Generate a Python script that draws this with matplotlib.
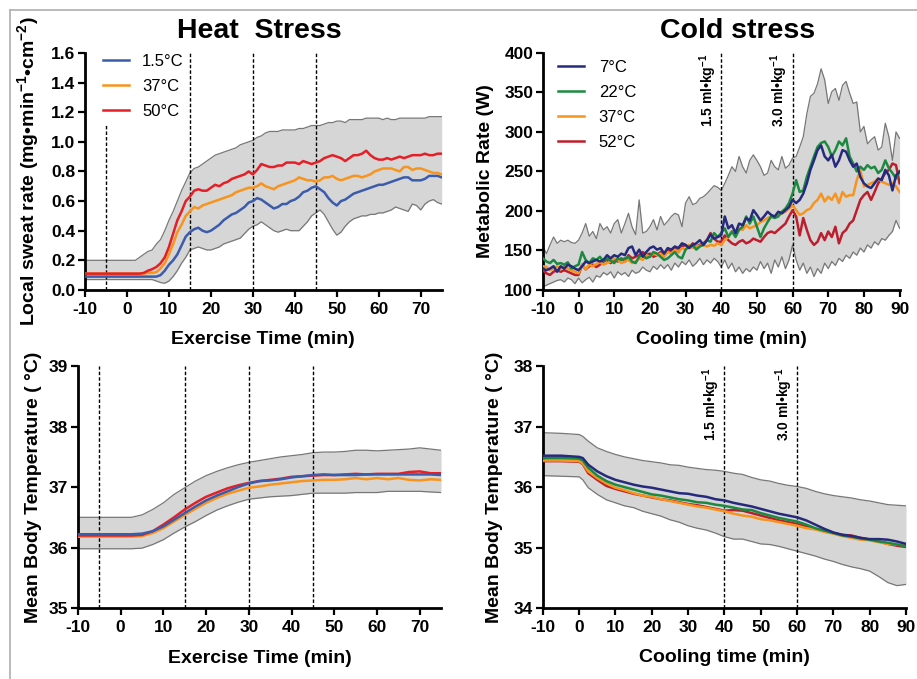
import matplotlib
matplotlib.use("Agg")
import matplotlib.pyplot as plt
from matplotlib.lines import Line2D
import matplotlib.transforms as mtransforms
import numpy as np

plt.rcParams['font.family'] = ['Liberation Sans', 'DejaVu Sans']
plt.rcParams['font.weight'] = 'bold'
plt.rcParams['axes.labelweight'] = 'bold'
plt.rcParams['axes.unicode_minus'] = False
plt.rcParams['mathtext.fontset'] = 'custom'
plt.rcParams['mathtext.rm'] = 'Liberation Sans:bold'
plt.rcParams['mathtext.bf'] = 'Liberation Sans:bold'

# ---------------- heat stress: local sweat rate (1 min samples, -10..75) ----------------
sweat_t = np.arange(-10, 76)
sweat_15 = [0.09, 0.09, 0.09, 0.09, 0.09, 0.09, 0.09, 0.09, 0.09, 0.09, 0.09, 0.09, 0.09, 0.09, 0.09, 0.09, 0.09, 0.09,
            0.10, 0.13, 0.17, 0.20, 0.24, 0.30, 0.36, 0.39, 0.41, 0.42, 0.40, 0.39, 0.40, 0.42, 0.44, 0.47, 0.49, 0.51,
            0.52, 0.54, 0.56, 0.59, 0.60, 0.62, 0.61, 0.59, 0.57, 0.55, 0.56, 0.58, 0.58, 0.60, 0.61, 0.63, 0.66, 0.67,
            0.69, 0.70, 0.68, 0.66, 0.62, 0.59, 0.57, 0.60, 0.61, 0.63, 0.65, 0.66, 0.67, 0.68, 0.69, 0.70, 0.71, 0.71,
            0.72, 0.73, 0.74, 0.75, 0.76, 0.76, 0.74, 0.74, 0.74, 0.75, 0.77, 0.77, 0.77, 0.76]
sweat_37 = [0.11, 0.11, 0.11, 0.11, 0.11, 0.11, 0.11, 0.11, 0.11, 0.11, 0.11, 0.11, 0.11, 0.11, 0.11,
            0.115, 0.115, 0.12, 0.145, 0.18, 0.24, 0.31, 0.39, 0.44, 0.50, 0.53, 0.56, 0.55, 0.57, 0.58, 0.59, 0.60,
            0.61, 0.62, 0.63, 0.64, 0.66, 0.67, 0.68, 0.69, 0.69, 0.70, 0.72, 0.70, 0.69, 0.68, 0.70, 0.71, 0.72, 0.73,
            0.74, 0.76, 0.75, 0.74, 0.74, 0.73, 0.74, 0.76, 0.76, 0.77, 0.75, 0.74, 0.75, 0.76, 0.77, 0.77, 0.76, 0.77,
            0.78, 0.80, 0.81, 0.82, 0.82, 0.82, 0.81, 0.80, 0.83, 0.83, 0.81, 0.82, 0.82, 0.81, 0.80, 0.79, 0.79, 0.78]
sweat_50 = [0.11, 0.11, 0.11, 0.11, 0.11, 0.11, 0.11, 0.11, 0.11, 0.11, 0.11, 0.11, 0.11,
            0.11, 0.115, 0.13, 0.14, 0.155, 0.18, 0.22, 0.29, 0.38, 0.47, 0.53, 0.60, 0.63, 0.67, 0.68, 0.67, 0.67,
            0.69, 0.71, 0.70, 0.72, 0.73, 0.75, 0.76, 0.77, 0.78, 0.80, 0.78, 0.81, 0.85, 0.84, 0.83, 0.83, 0.84, 0.84,
            0.86, 0.86, 0.86, 0.85, 0.87, 0.86, 0.85, 0.86, 0.87, 0.89, 0.90, 0.91, 0.90, 0.89, 0.87, 0.89, 0.91, 0.91,
            0.92, 0.94, 0.91, 0.89, 0.88, 0.88, 0.89, 0.88, 0.89, 0.90, 0.89, 0.90, 0.91, 0.91, 0.91, 0.92, 0.91, 0.91,
            0.92, 0.92]
sweat_hi = [0.20, 0.20, 0.20, 0.20, 0.20, 0.20, 0.20, 0.20, 0.20, 0.20, 0.20, 0.20, 0.20,
            0.22, 0.24, 0.26, 0.27, 0.31, 0.34, 0.40, 0.47, 0.53, 0.60, 0.67, 0.73, 0.79, 0.82, 0.83, 0.85, 0.87, 0.89,
            0.91, 0.92, 0.93, 0.94, 0.95, 0.96, 0.98, 0.99, 1.00, 1.01, 1.03, 1.04, 1.06, 1.07, 1.07, 1.07, 1.08, 1.08,
            1.08, 1.08, 1.09, 1.09, 1.10, 1.11, 1.11, 1.11, 1.12, 1.13, 1.13, 1.14, 1.14, 1.13, 1.15, 1.15, 1.15, 1.15,
            1.16, 1.16, 1.16, 1.16, 1.15, 1.16, 1.15, 1.15, 1.16, 1.16, 1.16, 1.16, 1.16, 1.16, 1.16, 1.17, 1.17, 1.17,
            1.17]
sweat_lo = [0.07, 0.07, 0.07, 0.07, 0.07, 0.07, 0.07, 0.07, 0.07, 0.07, 0.07, 0.07, 0.07, 0.07, 0.07, 0.07, 0.07,
            0.06, 0.05, 0.045, 0.06, 0.09, 0.13, 0.18, 0.22, 0.27, 0.28, 0.29, 0.28, 0.27, 0.27, 0.28, 0.29, 0.31, 0.32,
            0.33, 0.34, 0.35, 0.38, 0.41, 0.43, 0.44, 0.46, 0.44, 0.42, 0.40, 0.39, 0.40, 0.41, 0.40, 0.40, 0.40, 0.43,
            0.46, 0.50, 0.52, 0.54, 0.51, 0.46, 0.41, 0.37, 0.39, 0.43, 0.46, 0.48, 0.49, 0.50, 0.50, 0.51, 0.51, 0.52,
            0.52, 0.53, 0.54, 0.56, 0.55, 0.54, 0.53, 0.58, 0.57, 0.54, 0.58, 0.60, 0.61, 0.59, 0.58]

# ---------------- heat stress: mean body temperature (2.5 min samples) ----------------
heat_bt_t = np.arange(-10, 76, 2.5)
heat_bt_15 = [36.22, 36.22, 36.22, 36.22, 36.22, 36.22, 36.23, 36.27, 36.35, 36.46, 36.57, 36.68, 36.78, 36.86,
              36.93, 37.00, 37.06, 37.10, 37.11, 37.13, 37.16, 37.18, 37.20, 37.21, 37.20, 37.20, 37.20, 37.21,
              37.21, 37.21, 37.21, 37.21, 37.21, 37.21, 37.20]
heat_bt_37 = [36.18, 36.18, 36.18, 36.18, 36.18, 36.18, 36.19, 36.24, 36.32, 36.43, 36.54, 36.64, 36.74, 36.82,
              36.89, 36.94, 36.99, 37.01, 37.04, 37.06, 37.08, 37.10, 37.11, 37.12, 37.12, 37.13, 37.15, 37.13,
              37.15, 37.13, 37.15, 37.12, 37.11, 37.13, 37.12]
heat_bt_50 = [36.20, 36.20, 36.20, 36.20, 36.20, 36.20, 36.21, 36.27, 36.38, 36.50, 36.63, 36.74, 36.84, 36.91,
              36.98, 37.03, 37.07, 37.10, 37.12, 37.14, 37.17, 37.18, 37.19, 37.20, 37.20, 37.21, 37.22, 37.21,
              37.22, 37.22, 37.22, 37.25, 37.26, 37.23, 37.23]
heat_bt_hi = [36.50, 36.50, 36.50, 36.50, 36.50, 36.50, 36.54, 36.63, 36.74, 36.88, 36.99, 37.10, 37.19, 37.26,
              37.32, 37.37, 37.41, 37.44, 37.47, 37.50, 37.52, 37.54, 37.57, 37.58, 37.58, 37.59, 37.61, 37.61,
              37.60, 37.61, 37.62, 37.63, 37.65, 37.63, 37.61]
heat_bt_lo = [35.98, 35.98, 35.98, 35.98, 35.98, 35.98, 35.99, 36.05, 36.13, 36.24, 36.34, 36.43, 36.53, 36.62,
              36.69, 36.75, 36.80, 36.82, 36.84, 36.85, 36.86, 36.88, 36.90, 36.90, 36.90, 36.90, 36.91, 36.91,
              36.91, 36.93, 36.93, 36.93, 36.93, 36.92, 36.91]

# ---------------- cold stress: metabolic rate (1 min samples, -10..90) ----------------
met_t = np.arange(-10, 91)
met_7 = [127, 125, 127, 130, 123, 130, 127, 132, 130, 127, 125, 130, 136, 134, 136, 138, 136, 138, 144, 140, 144,
         142, 146, 144, 153, 155, 144, 151, 142, 148, 153, 155, 151, 153, 146, 153, 151, 155, 153, 159, 157, 153,
         157, 159, 163, 157, 163, 170, 165, 167, 169, 193, 178, 182, 172, 184, 182, 191, 188, 201, 195, 188, 193,
         199, 195, 193, 199, 197, 201, 205, 214, 210, 214, 222, 235, 252, 264, 277, 283, 269, 264, 271, 256, 264,
         277, 275, 264, 256, 260, 243, 235, 231, 229, 235, 241, 239, 252, 245, 226, 245, 250]
met_22 = [140, 136, 134, 138, 133, 134, 132, 135, 127, 130, 132, 148, 138, 134, 140, 138, 142, 136, 140, 137, 134,
          140, 138, 140, 142, 136, 134, 142, 144, 140, 142, 148, 146, 142, 138, 140, 144, 148, 142, 140, 151, 155,
          157, 151, 155, 157, 163, 161, 172, 167, 172, 178, 167, 174, 167, 176, 180, 193, 184, 193, 180, 167, 178,
          186, 193, 191, 193, 199, 203, 210, 222, 239, 224, 226, 243, 256, 269, 281, 286, 288, 281, 269, 277, 288,
          283, 292, 269, 260, 250, 256, 252, 258, 254, 256, 248, 252, 264, 254, 248, 241, 250]
met_37 = [130, 129, 125, 127, 130, 126, 130, 127, 125, 123, 121, 132, 126, 132, 130, 133, 135, 132, 134, 136, 140,
          138, 134, 136, 138, 134, 136, 140, 138, 144, 142, 146, 144, 146, 142, 148, 146, 151, 148, 153, 151, 157,
          153, 155, 156, 157, 155, 157, 156, 159, 157, 163, 167, 174, 169, 178, 176, 182, 178, 180, 182, 186, 188,
          191, 193, 193, 195, 197, 199, 203, 207, 201, 195, 197, 201, 203, 210, 214, 222, 212, 218, 214, 222, 210,
          224, 218, 220, 220, 239, 252, 231, 233, 235, 237, 241, 237, 235, 233, 235, 231, 224]
met_52 = [125, 121, 119, 123, 125, 123, 125, 123, 121, 119, 119, 132, 126, 130, 132, 129, 132, 136, 138, 134, 138,
          136, 140, 136, 144, 140, 142, 144, 148, 144, 146, 142, 144, 148, 146, 151, 148, 153, 148, 155, 157, 153,
          159, 155, 157, 159, 163, 172, 165, 161, 161, 169, 163, 159, 157, 161, 163, 159, 161, 165, 163, 161, 167,
          172, 174, 172, 176, 180, 184, 193, 201, 193, 169, 191, 176, 163, 157, 161, 172, 163, 174, 167, 180, 159,
          172, 176, 184, 188, 201, 214, 220, 224, 214, 224, 235, 241, 248, 252, 260, 258, 235]
met_hi = [155, 146, 157, 167, 159, 163, 161, 163, 160, 159, 163, 172, 184, 168, 174, 165, 184, 176, 180, 172, 184,
          189, 172, 184, 197, 180, 170, 214, 172, 174, 180, 189, 176, 193, 182, 187, 193, 197, 195, 180, 210, 218,
          208, 210, 216, 218, 222, 227, 232, 230, 226, 235, 245, 256, 250, 269, 256, 248, 264, 271, 264, 256, 245,
          248, 264, 256, 252, 269, 254, 258, 267, 269, 281, 294, 323, 345, 349, 361, 380, 366, 336, 351, 355, 340,
          359, 364, 349, 336, 338, 300, 307, 285, 290, 294, 277, 281, 311, 294, 264, 300, 292]
met_lo = [104, 106, 108, 110, 112, 113, 110, 115, 113, 108, 115, 109, 113, 116, 110, 118, 116, 122, 119, 123, 115,
          123, 119, 122, 117, 125, 121, 123, 129, 125, 123, 130, 126, 132, 127, 132, 125, 134, 129, 136, 132, 138,
          130, 134, 140, 132, 138, 134, 140, 136, 129, 138, 127, 134, 123, 129, 121, 127, 123, 129, 125, 136, 127,
          134, 121, 138, 129, 142, 127, 138, 157, 138, 125, 134, 121, 129, 117, 127, 121, 134, 127, 136, 131, 140,
          136, 144, 140, 148, 144, 153, 148, 157, 153, 161, 157, 165, 163, 169, 174, 188, 178]

# ---------------- cold stress: mean body temperature ----------------
cold_bt_t = [-10, -5, 0, 1, 2.5, 5, 7.5, 10, 12.5, 15, 17.5, 20, 22.5, 25, 27.5, 30, 32.5, 35, 37.5, 40, 42.5, 45,
             47.5, 50, 52.5, 55, 57.5, 60, 62.5, 65, 67.5, 70, 72.5, 75, 77.5, 80, 82.5, 85, 87.5, 90]
cold_bt_7 = [36.52, 36.52, 36.50, 36.48, 36.37, 36.26, 36.18, 36.12, 36.08, 36.04, 36.01, 35.99, 35.96, 35.93, 35.90,
             35.89, 35.86, 35.84, 35.80, 35.78, 35.74, 35.71, 35.68, 35.64, 35.60, 35.56, 35.53, 35.50, 35.45, 35.38,
             35.31, 35.25, 35.21, 35.19, 35.16, 35.14, 35.14, 35.13, 35.10, 35.06]
cold_bt_22 = [36.48, 36.48, 36.47, 36.44, 36.32, 36.19, 36.10, 36.04, 36.00, 35.96, 35.92, 35.88, 35.86, 35.83,
              35.80, 35.78, 35.75, 35.74, 35.71, 35.69, 35.66, 35.63, 35.62, 35.57, 35.53, 35.49, 35.46, 35.43,
              35.38, 35.32, 35.28, 35.24, 35.20, 35.18, 35.15, 35.13, 35.10, 35.08, 35.05, 35.02]
cold_bt_37 = [36.44, 36.44, 36.43, 36.39, 36.26, 36.15, 36.06, 35.99, 35.95, 35.90, 35.86, 35.84, 35.80, 35.77,
              35.74, 35.71, 35.68, 35.66, 35.63, 35.60, 35.56, 35.53, 35.51, 35.47, 35.45, 35.42, 35.39, 35.36,
              35.32, 35.30, 35.26, 35.23, 35.19, 35.16, 35.13, 35.12, 35.09, 35.06, 35.05, 35.04]
cold_bt_52 = [36.43, 36.43, 36.42, 36.38, 36.23, 36.12, 36.02, 35.97, 35.93, 35.89, 35.86, 35.83, 35.80, 35.78,
              35.75, 35.72, 35.70, 35.67, 35.64, 35.61, 35.62, 35.61, 35.57, 35.53, 35.49, 35.45, 35.42, 35.39,
              35.35, 35.31, 35.27, 35.24, 35.21, 35.20, 35.16, 35.13, 35.10, 35.06, 35.03, 35.01]
cold_bt_hi = [36.90, 36.89, 36.87, 36.84, 36.76, 36.65, 36.59, 36.54, 36.50, 36.47, 36.44, 36.42, 36.40, 36.37,
              36.36, 36.33, 36.31, 36.29, 36.28, 36.26, 36.23, 36.21, 36.16, 36.12, 36.10, 36.06, 36.03, 36.01,
              35.98, 35.93, 35.89, 35.86, 35.84, 35.82, 35.79, 35.77, 35.74, 35.71, 35.70, 35.69]
cold_bt_lo = [36.19, 36.18, 36.17, 36.12, 35.99, 35.88, 35.79, 35.74, 35.69, 35.66, 35.60, 35.56, 35.52, 35.46,
              35.42, 35.36, 35.32, 35.29, 35.24, 35.18, 35.14, 35.14, 35.10, 35.06, 35.05, 35.02, 34.98, 34.94,
              34.90, 34.86, 34.81, 34.77, 34.72, 34.68, 34.65, 34.61, 34.52, 34.42, 34.37, 34.39]

heat_labels = ['1.5°C', '37°C', '50°C']
cold_labels = ['7°C', '22°C', '37°C', '52°C']
heat_colors = ['#3b5bab', '#f7941d', '#e41f26']
cold_colors = ['#262a7c', '#1b8a40', '#f7941d', '#bd1e2d']
heat_marks = [-5, 15, 30, 45]
cold_marks = [40, 60]
dose_labels = ['1.5 ml•kg$^{\\mathbf{-1}}$', '3.0 ml•kg$^{\\mathbf{-1}}$']

band_fill = '#d6d6d6'
band_edge = '#777777'
dash = (0, (2.5, 1.5))

fig = plt.figure(figsize=(9.17, 6.79), dpi=100)
ax_tl = fig.add_axes([0.0927, 0.573, 0.389, 0.349])
ax_tr = fig.add_axes([0.592, 0.573, 0.389, 0.349])
ax_bl = fig.add_axes([0.085, 0.1046, 0.396, 0.356])
ax_br = fig.add_axes([0.592, 0.1046, 0.396, 0.356])


def style(ax):
    for s in ['top', 'right']:
        ax.spines[s].set_visible(False)
    for s in ['left', 'bottom']:
        ax.spines[s].set_linewidth(2)
    ax.tick_params(direction='out', length=5, width=1.6, labelsize=12.5, pad=2)
    ax.tick_params(axis='x', pad=4)


def band(ax, t, lo, hi):
    ax.fill_between(t, lo, hi, color=band_fill, lw=0, zorder=1)
    ax.plot(t, lo, color=band_edge, lw=0.9, zorder=1.2)
    ax.plot(t, hi, color=band_edge, lw=0.9, zorder=1.2)


# top-left: sweat rate
ax = ax_tl
band(ax, sweat_t, sweat_lo, sweat_hi)
ax.axvline(heat_marks[0], ymin=0, ymax=1.12 / 1.6, color='black', lw=1, ls=dash, zorder=1.5)
for m in heat_marks[1:]:
    ax.axvline(m, color='black', lw=1, ls=dash, zorder=1.5)
hl = []
for ser, lab, col in zip([sweat_15, sweat_37, sweat_50], heat_labels, heat_colors):
    hl.append(ax.plot(sweat_t, ser, color=col, lw=1.8, label=lab, zorder=3)[0])
ax.set_xlim(-10, 75)
ax.set_ylim(0, 1.6)
ax.set_xticks(np.arange(-10, 71, 10))
ax.set_yticks(np.arange(0, 1.61, 0.2))
ax.set_yticklabels(['%.1f' % v for v in np.arange(0, 1.61, 0.2)])
ax.set_xlabel('Exercise Time (min)', fontsize=14)
ax.set_ylabel('Local sweat rate (mg•min$^{\\mathbf{-1}}$•cm$^{\\mathbf{-2}}$)', fontsize=14)
ax.xaxis.set_label_coords(0.5, -0.173, ax.transAxes)
ax.xaxis.label.set_va('top')
ax.yaxis.set_label_coords(-0.12, 0.5, ax.transAxes)
ax.legend(handles=hl, loc='upper left', bbox_to_anchor=(0.05, 0.995), frameon=False, borderpad=0,
          borderaxespad=0, handlelength=1.55, handletextpad=0.8, labelspacing=0.6,
          prop={'weight': 'normal', 'size': 12})
style(ax)

# top-right: metabolic rate
ax = ax_tr
band(ax, met_t, met_lo, met_hi)
trans = mtransforms.blended_transform_factory(ax.transData, ax.transAxes)
for m, lab in zip(cold_marks, dose_labels):
    ax.axvline(m, color='black', lw=1, ls=dash, zorder=1.5)
    ax.text(m - 0.6, 0.995, lab, transform=trans, rotation=90, ha='right', va='top', fontsize=10)
cl = []
zs = [3.4, 3.3, 3.2, 3.1]
for ser, lab, col, z in zip([met_7, met_22, met_37, met_52], cold_labels, cold_colors, zs):
    cl.append(ax.plot(met_t, ser, color=col, lw=1.8, label=lab, zorder=z)[0])
ax.set_xlim(-10, 90)
ax.set_ylim(100, 400)
ax.set_xticks(np.arange(-10, 91, 10))
ax.set_yticks(np.arange(100, 401, 50))
ax.set_xlabel('Cooling time (min)', fontsize=14)
ax.set_ylabel('Metabolic Rate (W)', fontsize=14)
ax.xaxis.set_label_coords(0.5, -0.173, ax.transAxes)
ax.xaxis.label.set_va('top')
ax.yaxis.set_label_coords(-0.137, 0.5, ax.transAxes)
ax.legend(handles=cl, loc='upper left', bbox_to_anchor=(0.042, 0.97), frameon=False, borderpad=0,
          borderaxespad=0, handlelength=1.55, handletextpad=0.9, labelspacing=0.6,
          prop={'weight': 'normal', 'size': 12})
style(ax)

# bottom-left: mean body temperature, heat
ax = ax_bl
band(ax, heat_bt_t, heat_bt_lo, heat_bt_hi)
for m in heat_marks:
    ax.axvline(m, color='black', lw=1, ls=dash, zorder=1.5)
for ser, col, z in zip([heat_bt_37, heat_bt_50, heat_bt_15], [heat_colors[1], heat_colors[2], heat_colors[0]],
                       [3.0, 3.1, 3.2]):
    ax.plot(heat_bt_t, ser, color=col, lw=1.8, zorder=z)
ax.set_xlim(-10, 75)
ax.set_ylim(35, 39)
ax.set_xticks(np.arange(-10, 71, 10))
ax.set_yticks(np.arange(35, 40, 1))
ax.set_xlabel('Exercise Time (min)', fontsize=14)
ax.set_ylabel('Mean Body Temperature ( °C)', fontsize=14)
ax.xaxis.set_label_coords(0.5, -0.175, ax.transAxes)
ax.xaxis.label.set_va('top')
ax.yaxis.set_label_coords(-0.099, 0.5, ax.transAxes)
style(ax)

# bottom-right: mean body temperature, cold
ax = ax_br
band(ax, cold_bt_t, cold_bt_lo, cold_bt_hi)
trans = mtransforms.blended_transform_factory(ax.transData, ax.transAxes)
for m, lab in zip(cold_marks, dose_labels):
    ax.axvline(m, color='black', lw=1, ls=dash, zorder=1.5)
    ax.text(m - 0.6, 0.995, lab, transform=trans, rotation=90, ha='right', va='top', fontsize=10)
for ser, col, z in zip([cold_bt_52, cold_bt_37, cold_bt_22, cold_bt_7],
                       [cold_colors[3], cold_colors[2], cold_colors[1], cold_colors[0]], [3.0, 3.1, 3.2, 3.3]):
    ax.plot(cold_bt_t, ser, color=col, lw=1.8, zorder=z)
ax.set_xlim(-10, 90)
ax.set_ylim(34, 38)
ax.set_xticks(np.arange(-10, 91, 10))
ax.set_yticks(np.arange(34, 39, 1))
ax.set_xlabel('Cooling time (min)', fontsize=14)
ax.set_ylabel('Mean Body Temperature ( °C)', fontsize=14)
ax.xaxis.set_label_coords(0.5, -0.17, ax.transAxes)
ax.xaxis.label.set_va('top')
ax.yaxis.set_label_coords(-0.11, 0.5, ax.transAxes)
style(ax)

fig.text(0.283, 0.944, 'Heat  Stress', ha='center', va='baseline', fontsize=20.5)
fig.text(0.804, 0.944, 'Cold stress', ha='center', va='baseline', fontsize=20.5)

# thin page frame (top and left edges)
fig.add_artist(Line2D([10 / 917, 1], [1 - 10 / 679, 1 - 10 / 679], transform=fig.transFigure,
                      color='#b4b4b4', lw=1.3))
fig.add_artist(Line2D([10 / 917, 10 / 917], [0, 1 - 10 / 679], transform=fig.transFigure,
                      color='#b4b4b4', lw=1.3))

fig.savefig('out.png', dpi=100)
